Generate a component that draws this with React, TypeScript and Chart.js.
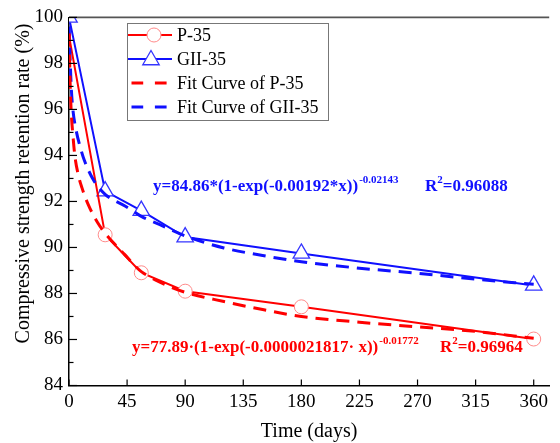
import React, { useEffect, useRef } from "react";
import { Chart, registerables } from "chart.js";

Chart.register(...registerables);

// ---- data ----
const days = [0, 28, 56, 90, 180, 360];
const p35 = [99.2, 90.55, 88.9, 88.1, 87.42, 86.02];
const gii35 = [100, 92.45, 91.6, 90.45, 89.74, 88.35];

const fitP35Days = [0.2, 0.6, 1.2, 1.8, 3, 4.5, 7, 10, 15, 22, 29, 43, 52, 56, 70, 90, 120, 150, 180, 225, 270, 315, 360];
const fitP35 = [99.3, 97.8, 96.6, 95.8, 94.9, 94.0, 93.2, 92.6, 91.85, 91.1, 90.55, 89.7, 89.15, 88.95, 88.5, 88.05, 87.65, 87.3, 87.0, 86.75, 86.55, 86.35, 86.05];

const fitGIIDays = [0.2, 0.6, 1.2, 1.7, 3, 5.5, 8.5, 11.8, 19.3, 28.2, 43.4, 51, 56, 70, 90, 120, 150, 180, 225, 270, 315, 360];
const fitGII = [99.6, 98.6, 97.7, 97.0, 96.0, 95.1, 94.4, 93.8, 92.9, 92.3, 91.8, 91.53, 91.35, 91.0, 90.5, 89.98, 89.65, 89.38, 89.1, 88.88, 88.62, 88.4];

const xTickValues = [0, 45, 90, 135, 180, 225, 270, 315, 360];
const yMin = 84;
const yMax = 100;
const xMax = 372;

const seriesLabels = ["P-35", "GII-35", "Fit Curve of P-35", "Fit Curve of GII-35"];
const xTitle = "Time (days)";
const yTitle = "Compressive strength retention rate (%)";
const eqGII = { main: "y=84.86*(1-exp(-0.00192*x))", sup: "-0.02143", r2: "=0.96088" };
const eqP = { main: "y=77.89\u00b7(1-exp(-0.0000021817\u00b7 x))", sup: "-0.01772", r2: "=0.96964" };

const RED = "#ff0000";
const RED_MARK = "#ff8a8a";
const BLUE = "#1010ff";
const BLUE_MARK = "#3535ff";
const SERIF = "'Liberation Serif', 'Times New Roman', serif";

const toXY = (xs: number[], ys: number[]) => xs.map((x, i) => ({ x, y: ys[i] }));

function drawTriangle(ctx: CanvasRenderingContext2D, x: number, y: number, r: number) {
  ctx.beginPath();
  let a = 0;
  for (let k = 0; k < 3; k++) {
    const px = x + Math.sin(a) * r;
    const py = y - Math.cos(a) * r;
    if (k === 0) ctx.moveTo(px, py);
    else ctx.lineTo(px, py);
    a += (2 * Math.PI) / 3;
  }
  ctx.closePath();
}

const decorPlugin = {
  id: "decor",
  afterDraw(chart: any) {
    const { ctx, chartArea, scales } = chart;
    const xs = scales.x;
    const ys = scales.y;
    ctx.save();
    // top frame
    ctx.strokeStyle = "#555";
    ctx.lineWidth = 1.6;
    ctx.beginPath();
    ctx.moveTo(chartArea.left, chartArea.top);
    ctx.lineTo(chartArea.right, chartArea.top);
    ctx.stroke();
    // inward ticks
    ctx.strokeStyle = "#000";
    ctx.lineWidth = 1.2;
    for (let v = yMin; v <= yMax; v++) {
      const py = ys.getPixelForValue(v);
      const len = v % 2 === 0 ? 8 : 4.5;
      ctx.beginPath();
      ctx.moveTo(chartArea.left, py);
      ctx.lineTo(chartArea.left + len, py);
      ctx.stroke();
    }
    xTickValues.forEach((d) => {
      const px = xs.getPixelForValue(d);
      ctx.beginPath();
      ctx.moveTo(px, chartArea.bottom);
      ctx.lineTo(px, chartArea.bottom - 6);
      ctx.stroke();
    });
    // y title
    ctx.fillStyle = "#000";
    ctx.font = `20px ${SERIF}`;
    ctx.textAlign = "center";
    ctx.textBaseline = "middle";
    ctx.translate(24, 183.5);
    ctx.rotate(-Math.PI / 2);
    ctx.fillText(yTitle, 0, 0);
    ctx.restore();

    // equations
    const drawEq = (eq: any, x: number, y: number, rx: number, color: string) => {
      ctx.save();
      ctx.fillStyle = color;
      ctx.textAlign = "left";
      ctx.textBaseline = "alphabetic";
      ctx.font = `bold 17px ${SERIF}`;
      ctx.fillText(eq.main, x, y);
      const w = ctx.measureText(eq.main).width;
      ctx.font = `bold 11px ${SERIF}`;
      ctx.fillText(eq.sup, x + w + 1, y - 8);
      ctx.font = `bold 17px ${SERIF}`;
      ctx.fillText("R", rx, y);
      const wr = ctx.measureText("R").width;
      ctx.font = `bold 11px ${SERIF}`;
      ctx.fillText("2", rx + wr, y - 8);
      const w2 = ctx.measureText("2").width;
      ctx.font = `bold 17px ${SERIF}`;
      ctx.fillText(eq.r2, rx + wr + w2, y);
      ctx.restore();
    };
    drawEq(eqGII, 153, 191, 425, BLUE);
    drawEq(eqP, 132, 352, 440, RED);

    // legend
    ctx.save();
    const bx = 127, by = 23, bw = 201, bh = 97;
    ctx.fillStyle = "#fff";
    ctx.fillRect(bx, by, bw, bh);
    ctx.strokeStyle = "#777";
    ctx.lineWidth = 1;
    ctx.strokeRect(bx + 0.5, by + 0.5, bw, bh);
    chart.data.datasets.forEach((ds: any, i: number) => {
      const cy = 35 + i * 24;
      ctx.strokeStyle = ds.borderColor;
      ctx.lineWidth = ds.borderWidth;
      if (ds.borderDash && ds.borderDash.length) {
        ctx.setLineDash([11.7, 11.7]);
        ctx.beginPath();
        ctx.moveTo(131.5, cy);
        ctx.lineTo(167, cy);
        ctx.stroke();
        ctx.setLineDash([]);
      } else {
        ctx.beginPath();
        ctx.moveTo(128, cy);
        ctx.lineTo(172, cy);
        ctx.stroke();
      }
      if (ds.pointStyle === "circle") {
        ctx.beginPath();
        ctx.arc(154, cy, 7, 0, Math.PI * 2);
        ctx.fillStyle = "#fff";
        ctx.fill();
        ctx.strokeStyle = ds.pointBorderColor;
        ctx.lineWidth = 1;
        ctx.stroke();
      } else if (ds.pointStyle === "triangle") {
        drawTriangle(ctx, 151, cy + 1, 9.5);
        ctx.fillStyle = "#fff";
        ctx.fill();
        ctx.strokeStyle = ds.pointBorderColor;
        ctx.lineWidth = 1.3;
        ctx.stroke();
      }
      ctx.fillStyle = "#000";
      ctx.font = `18px ${SERIF}`;
      ctx.textAlign = "left";
      ctx.textBaseline = "middle";
      ctx.fillText(ds.label, 177, cy + 1);
    });
    ctx.restore();
  },
};

export default function App() {
  const ref = useRef<HTMLCanvasElement | null>(null);

  useEffect(() => {
    document.body.style.margin = "0";
    document.body.style.overflow = "hidden";
    const canvas = ref.current;
    if (!canvas) return;
    const chart = new Chart(canvas, {
      type: "line",
      data: {
        datasets: [
          {
            label: seriesLabels[0],
            data: toXY(days, p35),
            borderColor: RED,
            borderWidth: 2,
            pointStyle: "circle",
            pointRadius: days.map((d, i) => (i === 0 ? 0 : 7)),
            pointBackgroundColor: "#fff",
            pointBorderColor: RED_MARK,
            pointBorderWidth: 1,
            tension: 0,
            order: 2,
            clip: 0,
          } as any,
          {
            label: seriesLabels[1],
            data: toXY(days, gii35),
            borderColor: BLUE,
            borderWidth: 2,
            pointStyle: "triangle",
            pointRadius: 9.5,
            pointBackgroundColor: "#fff",
            pointBorderColor: BLUE_MARK,
            pointBorderWidth: 1.3,
            tension: 0,
            order: 3,
            clip: 0,
          } as any,
          {
            label: seriesLabels[2],
            data: toXY(fitP35Days, fitP35),
            borderColor: RED,
            borderWidth: 3,
            borderDash: [13, 8],
            pointRadius: 0,
            cubicInterpolationMode: "monotone",
            order: 0,
            clip: 0,
          } as any,
          {
            label: seriesLabels[3],
            data: toXY(fitGIIDays, fitGII),
            borderColor: BLUE,
            borderWidth: 3,
            borderDash: [13, 8],
            pointRadius: 0,
            cubicInterpolationMode: "monotone",
            order: 1,
            clip: 0,
          } as any,
        ],
      },
      options: {
        animation: false,
        responsive: false,
        devicePixelRatio: 1,
        layout: { padding: { top: 12.5, right: 0, left: 0, bottom: 0 } },
        plugins: { legend: { display: false }, tooltip: { enabled: false } },
        scales: {
          x: {
            type: "linear",
            min: 0,
            max: xMax,
            afterFit: (s: any) => {
              s.height = 57.5;
            },
            afterBuildTicks: (s: any) => {
              s.ticks = xTickValues.map((v) => ({ value: v }));
            },
            ticks: {
              font: { family: SERIF, size: 19 },
              color: "#000",
              padding: 5,
              maxRotation: 0,
              autoSkip: false,
              includeBounds: false,
            },
            grid: { display: false, drawTicks: false },
            border: { display: true, color: "#000", width: 1.5 },
            title: {
              display: true,
              text: xTitle,
              color: "#000",
              font: { family: SERIF, size: 20, lineHeight: 1.1 },
              padding: { top: 0, bottom: 0 },
            },
          },
          y: {
            type: "linear",
            min: yMin,
            max: yMax,
            afterFit: (s: any) => {
              s.width = 69;
            },
            ticks: {
              stepSize: 2,
              font: { family: SERIF, size: 19 },
              color: "#000",
              padding: 6,
            },
            grid: { display: false, drawTicks: false },
            border: { display: true, color: "#000", width: 1.5 },
          },
        },
      } as any,
      plugins: [decorPlugin],
    });
    return () => chart.destroy();
  }, []);

  return (
    <div style={{ width: 560, height: 443, background: "#fff" }}>
      <canvas ref={ref} width={560} height={443} style={{ display: "block" }} />
    </div>
  );
}
